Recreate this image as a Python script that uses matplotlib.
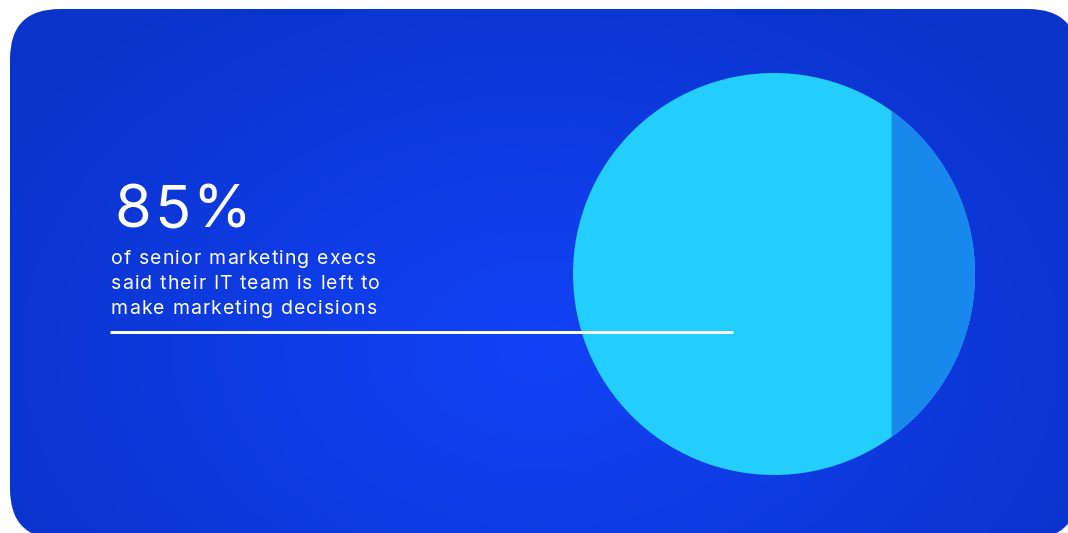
import numpy as np
import matplotlib
matplotlib.use('Agg')
import matplotlib.pyplot as plt
from matplotlib.patches import FancyBboxPatch, Circle, Polygon
from matplotlib.font_manager import FontProperties

# data
shares = [85, 15]          # % left to IT, rest
headline = '85%'
caption = ['of senior marketing execs',
           'said their IT team is left to',
           'make marketing decisions']

W, H = 1068, 533
fig = plt.figure(figsize=(W / 100, H / 100), dpi=100)
fig.patch.set_facecolor('white')
ax = fig.add_axes([0, 0, 1, 1])
ax.set_xlim(0, W)
ax.set_ylim(H, 0)
ax.axis('off')

# card background with radial gradient
card = FancyBboxPatch((10 + 50, 9 + 50), 1068 - 100, 530 - 100,
                      boxstyle='round,pad=50,rounding_size=50',
                      facecolor='none', edgecolor='none')
ax.add_patch(card)
yy, xx = np.mgrid[0:H, 0:W]
r = np.sqrt(((xx - 540) / 650.0) ** 2 + ((yy - 350) / 450.0) ** 2)
r = np.clip(r, 0, 1)
c_in = np.array([0x12, 0x42, 0xF7]) / 255
c_out = np.array([0x0A, 0x33, 0xC9]) / 255
img = c_in[None, None, :] * (1 - r[..., None]) + c_out[None, None, :] * r[..., None]
im = ax.imshow(img, extent=(0, W, H, 0), zorder=1, interpolation='bilinear')
im.set_clip_path(card)

# circle split by a vertical chord, segment area = minor share
cx, cy, R = 774, 274, 201
f = shares[1] / 100
lo, hi = 0.0, 1.0
for _ in range(60):
    d = (lo + hi) / 2
    seg = (np.arccos(d) - d * np.sqrt(1 - d * d)) / np.pi
    if seg > f:
        lo = d
    else:
        hi = d

ax.add_patch(Circle((cx, cy), R, facecolor='#23CEFD', edgecolor='none', zorder=2))
a = np.arccos(d)
t = np.linspace(-a, a, 200)
seg_pts = np.column_stack([cx + R * np.cos(t), cy + R * np.sin(t)])
ax.add_patch(Polygon(seg_pts, closed=True, facecolor='#1888EC',
                     edgecolor='none', zorder=3))

# text with letter spacing
renderer = fig.canvas.get_renderer()


def spaced_text(x, y, s, size, weight, track):
    fp = FontProperties(family=['Inter', 'DejaVu Sans'], size=size, weight=weight)
    dot_w = renderer.get_text_width_height_descent('.', fp, ismath=False)[0]
    for i, ch in enumerate(s):
        pre = renderer.get_text_width_height_descent(s[:i] + '.', fp, ismath=False)[0] - dot_w
        ax.text(x + pre + i * track, y, ch, fontproperties=fp, color='white',
                ha='left', va='baseline', zorder=5)


spaced_text(115, 227, headline, 43, 'normal', 2)
for k, line in enumerate(caption):
    spaced_text(111, 264 + 25 * k, line, 14, 'normal', 1.1)

ax.plot([110, 733], [331.5, 331.5], color='white', lw=2.1,
        solid_capstyle='butt', zorder=6)

fig.savefig('out.png', dpi=100, facecolor='white')
